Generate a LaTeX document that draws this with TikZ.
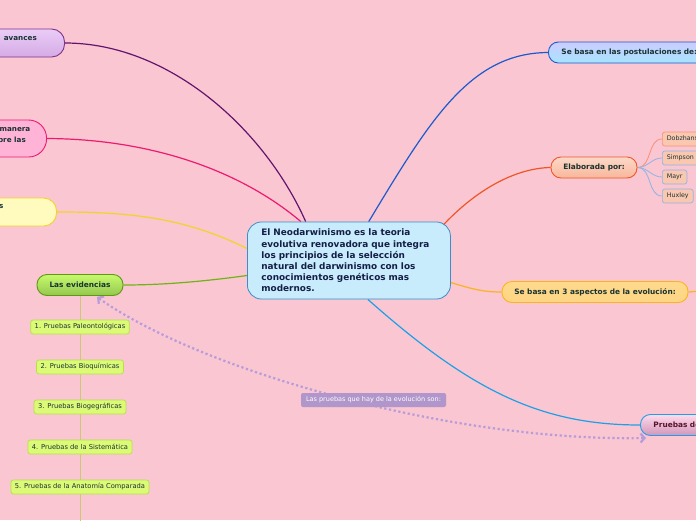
\documentclass[tikz,border=0pt]{standalone}
\usepackage{fontspec}
\setmainfont{DejaVu Sans}
\usetikzlibrary{arrows.meta}
\pgfdeclarelayer{bg}
\pgfdeclarelayer{edges}
\pgfsetlayers{bg,edges,main}
\definecolor{bgpink}{RGB}{249,198,210}
\definecolor{txtdark}{RGB}{25,50,50}
\definecolor{txtnavy}{RGB}{20,30,70}
\definecolor{purpfill}{RGB}{228,192,245}
\definecolor{purpdraw}{RGB}{130,50,140}
\definecolor{purpline}{RGB}{100,20,110}
\definecolor{magfill}{RGB}{255,180,215}
\definecolor{magline}{RGB}{238,25,112}
\definecolor{yelfill}{RGB}{255,250,190}
\definecolor{yelline}{RGB}{242,212,40}
\definecolor{grnline}{RGB}{112,180,20}
\definecolor{leaffill}{RGB}{220,250,120}
\definecolor{leafdraw}{RGB}{180,225,70}
\definecolor{stemline}{RGB}{205,200,120}
\definecolor{bluline}{RGB}{30,90,205}
\definecolor{salline}{RGB}{240,85,40}
\definecolor{autfill}{RGB}{250,200,176}
\definecolor{autblue}{RGB}{145,180,230}
\definecolor{autsal}{RGB}{250,145,120}
\definecolor{orgline}{RGB}{250,180,30}
\definecolor{cyanline}{RGB}{30,160,230}
\definecolor{relfill}{RGB}{176,150,202}
\definecolor{reldot}{RGB}{182,156,216}
\definecolor{ctrfill}{RGB}{200,236,252}
\definecolor{ctrdraw}{RGB}{60,140,200}
\tikzset{
  branch/.style={draw,line width=0.9pt,rounded corners=10pt,minimum height=21pt,
    inner xsep=12pt,text=txtdark,font=\bfseries\fontsize{7.4}{8.5}\selectfont},
  leaf/.style={draw=leafdraw,fill=leaffill,line width=0.7pt,rounded corners=2.5pt,
    minimum height=14pt,inner xsep=4pt,text=txtdark,font=\fontsize{6.7}{7.5}\selectfont},
  author/.style={fill=autfill,line width=0.7pt,rounded corners=2.5pt,anchor=west,
    minimum height=14pt,inner xsep=4.5pt,text=txtdark,font=\fontsize{6.3}{7}\selectfont},
  conn/.style={line width=1.2pt},
  cuttext/.style={anchor=east,text=txtdark,inner sep=0pt,font=\bfseries\fontsize{7.2}{8}\selectfont},
}
\begin{document}
\begin{tikzpicture}[x=1pt,y=-1pt]
  \useasboundingbox (0,0) rectangle (696,520);
  \begin{pgfonlayer}{bg}
    \fill[bgpink] (0,0) rectangle (696,520);
  \end{pgfonlayer}

  % central topic
  \node[draw=ctrdraw,fill=ctrfill,line width=0.8pt,rounded corners=14pt,anchor=west,
    minimum height=77pt,inner xsep=14pt,text width=175pt,align=left,text=txtnavy,
    font=\bfseries\fontsize{8.9}{11.2}\selectfont] (neo) at (247,260.5)
    {El Neodarwinismo es la teoria\\ evolutiva renovadora que integra\\ los principios de la selección\\
     natural del darwinismo con los\\ conocimientos genéticos mas\\ modernos.};

  % left branches (cut by the page edge)
  \node[branch,draw=purpdraw,top color=purpfill!80!white,bottom color=purpfill!85!purpdraw,
    rounded corners=13pt,anchor=east,minimum width=150pt,minimum height=28pt] (avan) at (65,43) {};
  \node[cuttext] (avantxt) at (37,39) {avances};
  \node[branch,draw=magline,fill=magfill,rounded corners=18pt,anchor=east,
    minimum width=150pt,minimum height=37pt] (sobre) at (47,138.5) {};
  \node[cuttext] (sobretxt) at (30.5,130) {manera};
  \node[cuttext] (sobretxtb) at (26,139.5) {sobre las};
  \node[branch,draw=yelline,fill=yelfill,rounded corners=13pt,anchor=east,
    minimum width=150pt,minimum height=28pt] (yel) at (57,212) {};
  \node[cuttext] (yeltxt) at (3.5,207) {s};

  \node[branch,draw=grnline!85!black,top color=leaffill!90!green,bottom color=grnline!75!white,
    minimum width=86pt] (evid) at (80,285) {Las evidencias};
  \foreach \y/\lab/\nm in {327/{1. Pruebas Paleontológicas}/ev1,367/{2. Pruebas Bioquímicas}/ev2,
      407/{3. Pruebas Biogegráficas}/ev3,447/{4. Pruebas de la Sistemática}/ev4,
      487/{5. Pruebas de la Anatomía Comparada}/ev5}
    \node[leaf] (\nm) at (80,\y) {\lab};
  \coordinate (evend) at (80,522);

  % right branches
  \node[branch,draw=bluline,top color=blue!20!white,bottom color=blue!30!cyan!35!white,anchor=west,
    text width=190pt,align=left,inner xsep=13pt] (post) at (548,52.5) {Se basa en las postulaciones de:};
  \node[branch,draw=salline,top color=autfill!70!white,bottom color=autfill!85!salline,
    minimum width=86pt] (elab) at (594,167.5) {Elaborada por:};
  \foreach \y/\lab/\nm/\cl in {139/Dobzhansky/aut1/autsal,158/Simpson/aut2/autblue,
      177/Mayr/aut3/autblue,196/Huxley/aut4/autblue}
    \node[author,draw=\cl] (\nm) at (662,\y) {\lab};
  \node[branch,draw=orgline,top color=yellow!35!orange!45!white,bottom color=orgline!55!white,
    minimum width=186pt] (basa) at (595,292) {Se basa en 3 aspectos de la evolución:};
  \coordinate (basaend) at (700,291);
  \node[branch,draw=cyanline,top color=magfill!50!white,bottom color=purpdraw!20!magfill!80!gray,
    anchor=west,text width=80pt,align=left,inner xsep=13pt,text={rgb,255:red,90;green,20;blue,40}]
    (prue) at (640,425) {Pruebas de};

  % relation label
  \node[fill=relfill,rounded corners=2pt,text=white,minimum width=145pt,minimum height=14pt,
    inner sep=2pt,font=\fontsize{6.5}{7.5}\selectfont] (rel) at (373.5,400)
    {Las pruebas que hay de la evolución son:};

  \begin{pgfonlayer}{edges}
    \draw[conn,purpline] (neo.138.5) .. controls (265,130) and (170,43) .. (avan.east);
    \draw[conn,magline] (neo.141) .. controls (240,170) and (150,139) .. (sobre.east);
    \draw[conn,yelline] (neo.west) ++(0,-12) .. controls (180,215) and (120,212) .. (yel.east);
    \draw[conn,grnline] (neo.west) ++(0,15) .. controls (200,282) and (160,285) .. (evid.east);
    \draw[conn,bluline] (neo.63) .. controls (430,120) and (470,53) .. (post.west);
    \draw[conn,salline] (neo.north east) ++(-10,6) .. controls (480,185) and (520,168) .. (elab.west);
    \draw[conn,orgline] (neo.east) ++(0,22) .. controls (475,290) and (485,292) .. (basa.west);
    \draw[conn,orgline] (basa.east) -- (basaend);
    \draw[conn,cyanline] (neo.-64) .. controls (470,390) and (540,425) .. (prue.west);
    \draw[stemline,line width=1pt] (evid.south) -- (evend);
    \foreach \nm/\cl in {aut1/autsal,aut2/autblue,aut3/autblue,aut4/autblue}
      \draw[\cl,line width=0.8pt] (elab.east) to[out=0,in=180] (\nm.west);
    \draw[reldot,line width=2.2pt,dash pattern=on 2.2pt off 2.6pt,
      {Straight Barb[length=4pt,width=9pt]}-{Straight Barb[length=4pt,width=9pt]}]
      ([xshift=17pt,yshift=-1pt]evid.south) .. controls (200,370) and (450,442) .. ([xshift=6pt,yshift=-2pt]prue.south west);
  \end{pgfonlayer}
\end{tikzpicture}
\end{document}
